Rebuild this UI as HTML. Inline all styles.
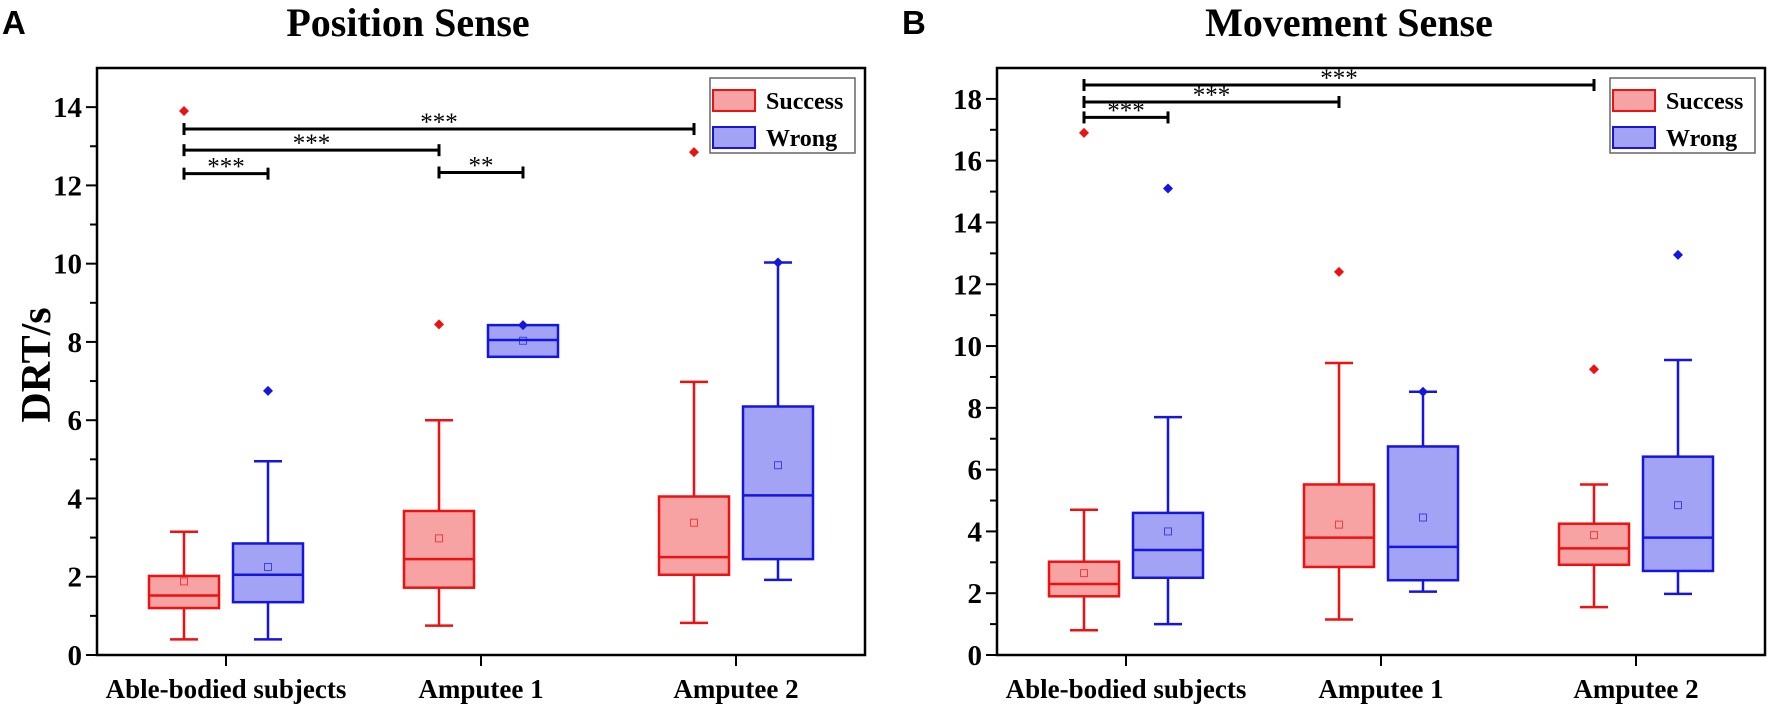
<!DOCTYPE html>
<html><head><meta charset="utf-8"><style>
html,body{margin:0;padding:0;background:#fff;}
svg{display:block;}
text{font-family:"Liberation Serif",serif;font-weight:bold;fill:#000;}
</style></head><body>
<svg id="fig" width="1772" height="707" viewBox="0 0 1772 707" xmlns="http://www.w3.org/2000/svg"></svg>
<script>
const categories = ["Able-bodied subjects","Amputee 1","Amputee 2"];
const seriesNames = ["Success","Wrong"];
// Panel A: Position Sense  [whiskerLow, q1, median, q3, whiskerHigh, mean, outlier]
const aSuccess = [[0.4,1.2,1.52,2.02,3.15,1.88,13.9],[0.75,1.72,2.45,3.68,6.0,2.98,8.45],[0.82,2.05,2.5,4.05,6.98,3.38,12.85]];
const aWrong = [[0.4,1.35,2.05,2.85,4.95,2.25,6.75],[7.62,7.62,8.05,8.43,8.43,8.03,8.43],[1.92,2.45,4.08,6.35,10.03,4.85,10.03]];
// Panel B: Movement Sense
const bSuccess = [[0.8,1.9,2.3,3.02,4.7,2.65,16.9],[1.15,2.85,3.8,5.52,9.45,4.22,12.4],[1.55,2.92,3.45,4.25,5.52,3.88,9.25]];
const bWrong = [[1.0,2.5,3.4,4.6,7.7,4.0,15.1],[2.05,2.42,3.5,6.75,8.52,4.45,8.52],[1.98,2.72,3.8,6.42,9.55,4.85,12.95]];
const aTicks = [0,2,4,6,8,10,12,14];
const bTicks = [0,2,4,6,8,10,12,14,16,18];
// significance: [fromCat, fromSeries, toCat, toSeries, y, label]
const aSig = [[0,0,0,1,12.3,"***"],[0,0,1,0,12.9,"***"],[1,0,1,1,12.33,"**"],[0,0,2,0,13.44,"***"]];
const bSig = [[0,0,0,1,17.4,"***"],[0,0,1,0,17.9,"***"],[0,0,2,0,18.45,"***"]];

const NS="http://www.w3.org/2000/svg";
const svg=document.getElementById('fig');
function el(tag,attrs,parent,txt){const e=document.createElementNS(NS,tag);for(const k in attrs)e.setAttribute(k,attrs[k]);if(txt!==undefined)e.textContent=txt;(parent||svg).appendChild(e);return e;}

function panel(ox, ymax, ticks, succ, wrong, sig, title, titleX, letter, pname){
  const g=el('g',{});
  
  
  const L=ox, R=ox+768, T=68, B=655;
  const y=v=>B-(v/ymax)*(B-T);
  const cx=i=>L+129+i*255;
  const sx=(c,s)=>cx(c)+(s===0?-42:42);
  let t=el('text',{x:ox-95,y:34,style:'font-family:"Liberation Sans",sans-serif;font-size:33px;font-weight:bold'},g,letter);
  
  t=el('text',{x:titleX,y:36,'font-size':40,'text-anchor':'middle'},g,title);
  
  for(let v=1;v<ymax;v+=2){el('line',{x1:L-7,x2:L,y1:y(v),y2:y(v),stroke:'#000','stroke-width':2},g);}
  ticks.forEach(v=>{
    el('line',{x1:L-11,x2:L,y1:y(v),y2:y(v),stroke:'#000','stroke-width':2},g);
    const tl=el('text',{x:L-15,y:y(v)+10,'font-size':29,'text-anchor':'end'},g,String(v));
    
  });
  categories.forEach((c,i)=>{
    el('line',{x1:cx(i),x2:cx(i),y1:B,y2:B+11,stroke:'#000','stroke-width':2},g);
    const tl=el('text',{x:cx(i),y:B+43,'font-size':27,'text-anchor':'middle'},g,c);
    
  });
  const fr=el('rect',{x:L,y:T,width:R-L,height:B-T,fill:'none',stroke:'#000','stroke-width':2.5},g);
  
  [[succ,'#ee1111','#f7a3a3'],[wrong,'#1515e0','#a3a3f5']].forEach(([data,stroke,fill],s)=>{
    data.forEach((d,i)=>{
      const x=sx(i,s), w=70;
      const bg=el('g',{},g);
      
      
      if(d[0]<d[1]){el('line',{x1:x,x2:x,y1:y(d[0]),y2:y(d[1]),stroke,'stroke-width':2.5},bg);
        el('line',{x1:x-14,x2:x+14,y1:y(d[0]),y2:y(d[0]),stroke,'stroke-width':2.5},bg);}
      if(d[4]>d[3]){el('line',{x1:x,x2:x,y1:y(d[3]),y2:y(d[4]),stroke,'stroke-width':2.5},bg);
        el('line',{x1:x-14,x2:x+14,y1:y(d[4]),y2:y(d[4]),stroke,'stroke-width':2.5},bg);}
      el('rect',{x:x-w/2,y:y(d[3]),width:w,height:y(d[1])-y(d[3]),fill,stroke,'stroke-width':2.5},bg);
      el('line',{x1:x-w/2,x2:x+w/2,y1:y(d[2]),y2:y(d[2]),stroke,'stroke-width':2.5},bg);
      el('rect',{x:x-3.5,y:y(d[5])-3.5,width:7,height:7,fill:'none',stroke,'stroke-width':1,opacity:0.7},bg);
      const o=y(d[6]);
      el('polygon',{points:`${x},${o-5} ${x+5},${o} ${x},${o+5} ${x-5},${o}`,fill:stroke},bg);
    });
  });
  sig.forEach(sg=>{
    const x1=sx(sg[0],sg[1]), x2=sx(sg[2],sg[3]), yy=y(sg[4]);
    const sgG=el('g',{},g);
    
    
    el('line',{x1,x2,y1:yy,y2:yy,stroke:'#000','stroke-width':3},sgG);
    el('line',{x1:x1,x2:x1,y1:yy-6,y2:yy+6,stroke:'#000','stroke-width':3},sgG);
    el('line',{x1:x2,x2:x2,y1:yy-6,y2:yy+6,stroke:'#000','stroke-width':3},sgG);
    el('text',{x:(x1+x2)/2,y:yy+1,'font-size':25,'font-weight':'normal','text-anchor':'middle',style:'font-weight:normal'},sgG,sg[5]);
  });
  const lg=el('g',{},g);
  
  
  const lx=R-155;
  el('rect',{x:lx,y:78,width:145,height:75,fill:'#fff',stroke:'#666','stroke-width':1.5},lg);
  [['#ee1111','#f7a3a3'],['#1515e0','#a3a3f5']].forEach((c,s)=>{
    const yy=90+s*37;
    const le=el('g',{},lg);
    
    
    el('rect',{x:lx+3,y:yy,width:42,height:21,fill:c[1],stroke:c[0],'stroke-width':2},le);
    el('text',{x:lx+56,y:yy+19,'font-size':24},le,seriesNames[s]);
  });
}
panel(97,15,aTicks,aSuccess,aWrong,aSig,"Position Sense",408,"A","panel-a-position-sense");
panel(997,19,bTicks,bSuccess,bWrong,bSig,"Movement Sense",1349,"B","panel-b-movement-sense");
const yl=el('text',{x:0,y:0,'font-size':42,'text-anchor':'middle',transform:'translate(50,365) rotate(-90)'},svg,"DRT/s");


</script>
</body></html>
